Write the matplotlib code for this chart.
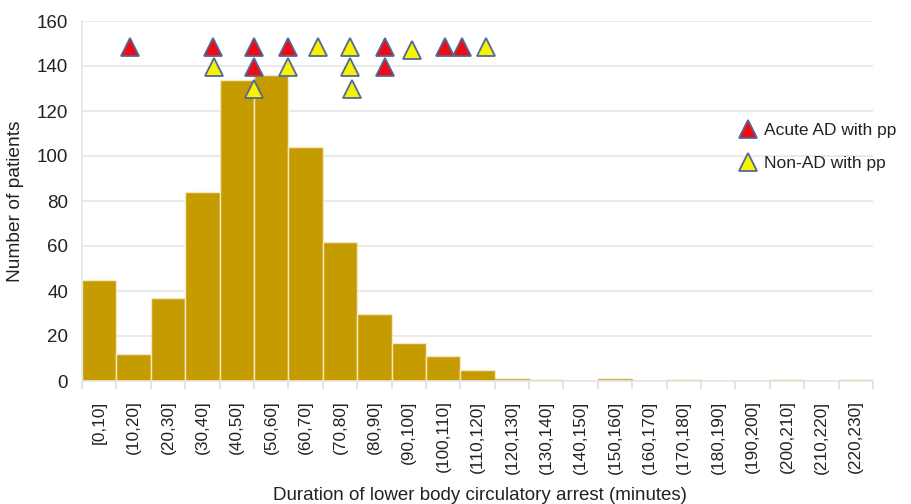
"""Histogram of lower body circulatory arrest duration with pp markers."""
import numpy as np
import matplotlib
matplotlib.use("Agg")
import matplotlib.pyplot as plt

plt.rcParams["font.family"] = ["Liberation Sans", "DejaVu Sans"]

bin_labels = ["[0,10]", "(10,20]", "(20,30]", "(30,40]", "(40,50]", "(50,60]",
              "(60,70]", "(70,80]", "(80,90]", "(90,100]", "(100,110]", "(110,120]",
              "(120,130]", "(130,140]", "(140,150]", "(150,160]", "(160,170]",
              "(170,180]", "(180,190]", "(190,200]", "(200,210]", "(210,220]",
              "(220,230]"]
counts = [45, 12, 37, 84, 134, 136, 104, 62, 30, 17, 11, 5,
          1, 0.5, 0, 1, 0, 0.5, 0, 0, 0.5, 0, 0.5]

# acute AD with pp (minutes, plotted height)
acute_x = [14, 38, 50, 60, 88, 105.5, 110.5, 50, 88]
acute_y = [148.5, 148.5, 148.5, 148.5, 148.5, 148.5, 148.5, 139.5, 139.5]
# non-AD with pp
nonad_x = [68.5, 78, 96, 117.5, 38.5, 60, 78, 50, 78.5]
nonad_y = [148.5, 148.5, 147, 148.5, 139.5, 139.5, 139.5, 130, 130]

BAR = "#C59B00"
EDGE = "#52689A"
TXT = "#222222"

fig = plt.figure(figsize=(9.11, 5.04), dpi=100)
ax = fig.add_axes([82 / 911, 1 - 381 / 504, (873 - 82) / 911, 360 / 504])

centers = np.arange(len(counts)) * 10 + 5
# pale outline on the big bars, plain gold on the slivers so they stay visible
edges = ["#F3E9C8" if c >= 3 else "#D6B449" for c in counts]
ax.bar(centers, counts, width=10, color=BAR, edgecolor=edges, linewidth=1.0, zorder=2)

ax.plot(acute_x, acute_y, linestyle="none", marker="^", ms=12.5, mfc="#F00A14",
        mec=EDGE, mew=1.3, zorder=4, label="Acute AD with pp")
ax.plot(nonad_x, nonad_y, linestyle="none", marker="^", ms=12.5, mfc="#F7F200",
        mec=EDGE, mew=1.3, zorder=4, label="Non-AD with pp")

ax.set_xlim(0, 230)
ax.set_ylim(0, 160)
ax.set_yticks(np.arange(0, 161, 20))
ax.yaxis.grid(True, color="#E6E6E6", linewidth=1.2, zorder=0)
ax.set_axisbelow(True)
ax.tick_params(axis="y", length=0, labelsize=13.5, labelcolor=TXT, pad=10)

ax.set_xticks(centers)
ax.set_xticklabels(bin_labels, rotation=90, fontsize=12.4, color=TXT)
ax.set_xticks(np.arange(0, 231, 10), minor=True)
ax.tick_params(axis="x", which="major", length=0, pad=14)
ax.tick_params(axis="x", which="minor", length=6, color="#DDDDDD", width=1.2)

for side in ["top", "right"]:
    ax.spines[side].set_visible(False)
ax.spines["left"].set_color("#E6E6E6")
ax.spines["bottom"].set_color("#E6E6E6")
ax.spines["left"].set_linewidth(1.2)
ax.spines["bottom"].set_linewidth(1.2)

ax.set_ylabel("Number of patients", fontsize=13.8, color=TXT, labelpad=9)
fig.text(480 / 911, 1 - 495 / 504, "Duration of lower body circulatory arrest (minutes)",
         ha="center", va="center", fontsize=13.5, color=TXT)

ax.legend(loc="upper left", bbox_to_anchor=(731 / 911, 1 - 116 / 504),
          bbox_transform=fig.transFigure, frameon=False, fontsize=12.5,
          handletextpad=0.3, labelspacing=1.05, handlelength=1.2, borderaxespad=0,
          labelcolor=TXT)

fig.savefig("out.png", dpi=100)
